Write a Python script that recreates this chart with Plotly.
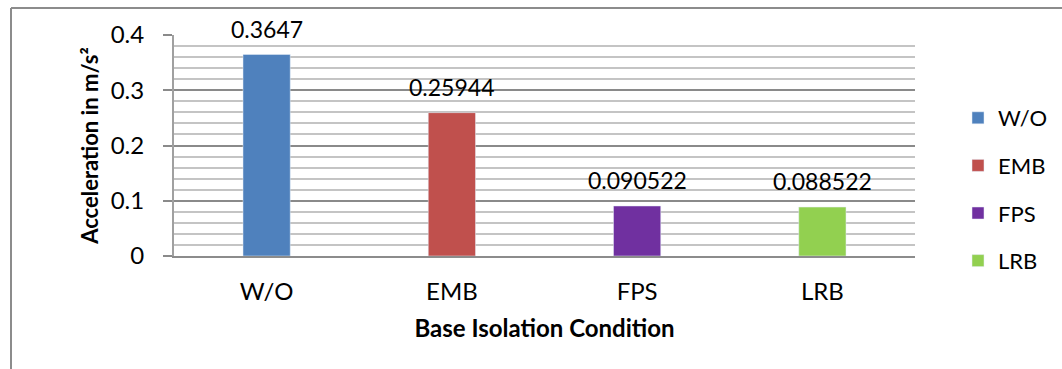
import plotly.graph_objects as go

categories = ["W/O", "EMB", "FPS", "LRB"]
values = [0.3647, 0.25944, 0.090522, 0.088522]
labels = ["0.3647", "0.25944", "0.090522", "0.088522"]
colors = ["#4F81BD", "#C0504D", "#7030A0", "#92D050"]
y_ticks = [0, 0.1, 0.2, 0.3, 0.4]
y_ticktext = ["0", "0.1", "0.2", "0.3", "0.4"]

W, H = 1062, 369
L, R, T, B = 174, 915, 35, 256
FONT = "Lato"

def px_x(p):
    return (p - L) / (R - L)

def px_y(p):
    return (B - p) / (B - T)

fig = go.Figure()
for c, v, col in zip(categories, values, colors):
    fig.add_trace(go.Bar(x=[c], y=[v], name=c, marker_color=col, width=0.255,
                         legendgroup=c, showlegend=True))

for c, v, t in zip(categories, values, labels):
    fig.add_annotation(x=c, y=v, text=t, showarrow=False, yanchor="bottom",
                       yshift=10, font=dict(family=FONT, size=23, color="#000"))

# outer frame lines (left & top)
fig.add_shape(type="line", xref="paper", yref="paper", x0=px_x(11), x1=px_x(11),
              y0=px_y(8), y1=px_y(372), line=dict(color="#8c8c8c", width=2))
fig.add_shape(type="line", xref="paper", yref="paper", x0=px_x(11), x1=px_x(1065),
              y0=px_y(8), y1=px_y(8), line=dict(color="#8c8c8c", width=2))

fig.update_layout(
    width=W, height=H,
    margin=dict(l=L, r=W - R, t=T, b=H - B, autoexpand=False),
    paper_bgcolor="white", plot_bgcolor="white",
    barmode="overlay",
    font=dict(family=FONT, size=22, color="#000"),
    legend=dict(x=px_x(958), y=px_y(97), xanchor="left", yanchor="top",
                font=dict(family=FONT, size=22), tracegroupgap=16,
                bgcolor="rgba(0,0,0,0)"),
    xaxis=dict(type="category", categoryorder="array", categoryarray=categories,
               showline=True, linecolor="#8c8c8c", linewidth=2,
               showgrid=False, ticks="", ticklabelstandoff=13,
               tickfont=dict(family=FONT, size=24),
               title=dict(text="<b>Base Isolation Condition</b>",
                          font=dict(family=FONT, size=24), standoff=16)),
    yaxis=dict(range=[0, 0.4], tickvals=y_ticks, ticktext=y_ticktext,
               showline=True, linecolor="#a0a0a0", linewidth=2,
               showgrid=True, gridcolor="#8a8a8a", gridwidth=1.5,
               ticks="outside", ticklen=9, tickcolor="#8a8a8a", tickwidth=2,
               ticklabelstandoff=14, zeroline=False,
               tickfont=dict(family=FONT, size=24),
               minor=dict(dtick=0.02, showgrid=True, gridcolor="#c4c4c4",
                          gridwidth=1.5, ticks=""),
               title=dict(text="<b>Acceleration in m/s²</b>",
                          font=dict(family=FONT, size=22), standoff=6)),
)

fig.write_html("out.html")
